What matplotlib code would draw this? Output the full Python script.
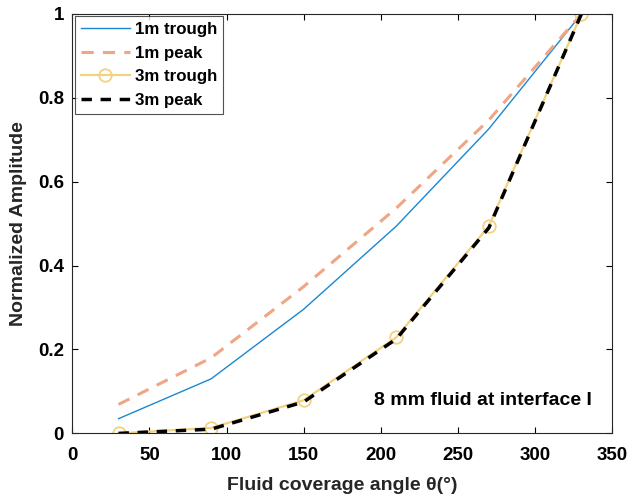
import matplotlib
matplotlib.use("Agg")
import matplotlib.pyplot as plt

plt.rcParams['font.family'] = ['Liberation Sans', 'DejaVu Sans']
plt.rcParams['font.weight'] = 'bold'

# Datos
angulos = [30, 90, 150, 210, 270, 330]
trough_1m = [0.035, 0.13, 0.296, 0.494, 0.726, 1.0]
peak_1m = [0.069, 0.18, 0.35, 0.537, 0.747, 1.0]
trough_3m = [0.0, 0.013, 0.079, 0.229, 0.494, 1.0]
peak_3m = [0.0, 0.01, 0.075, 0.225, 0.49, 1.0]

fig = plt.figure(figsize=(6.28, 4.97), dpi=100)
ax = fig.add_axes([0.115, 0.128, 0.86, 0.844])

ax.plot(angulos, trough_1m, color='#1A87D4', lw=1.0, label='1m trough')
ax.plot(angulos, peak_1m, color='#F0A585', lw=2.2, ls=(0, (4, 3)), label='1m peak')
ax.plot(angulos, trough_3m, color='#F2D27E', lw=1.6, marker='o', ms=9,
        mfc='none', mec='#F2D27E', mew=1.3, label='3m trough')
ax.plot(angulos, peak_3m, color='black', lw=2.5, ls=(0, (3, 2.5)), label='3m peak')

ax.set_xlim(0, 350)
ax.set_ylim(0, 1)
ax.set_xticks(range(0, 351, 50))
ax.set_yticks([0, 0.2, 0.4, 0.6, 0.8, 1])
ax.set_yticklabels(['0', '0.2', '0.4', '0.6', '0.8', '1'])
ax.tick_params(direction='in', length=4, labelsize=13.5, top=True, right=True)
ax.tick_params(axis='x', pad=10)
ax.tick_params(axis='y', pad=6)
for s in ax.spines.values():
    s.set_color('#262626')
    s.set_linewidth(0.8)

ax.set_xlabel('Fluid coverage angle θ(°)', fontsize=14, fontweight='bold',
              color='#262626', labelpad=9)
ax.set_ylabel('Normalized Amplitude', fontsize=14, fontweight='bold',
              color='#262626', labelpad=8)

ax.text(337, 0.079, '8 mm fluid at interface I', ha='right', va='center', fontsize=14,
        fontweight='bold')

leg = ax.legend(loc='upper left', fontsize=12.2, frameon=True, fancybox=False,
                handlelength=2.9, borderaxespad=0.15, labelspacing=0.5,
                handletextpad=0.3, borderpad=0.35)
leg.get_frame().set_edgecolor('#262626')
leg.get_frame().set_linewidth(0.8)

fig.savefig('out.png', dpi=100)
